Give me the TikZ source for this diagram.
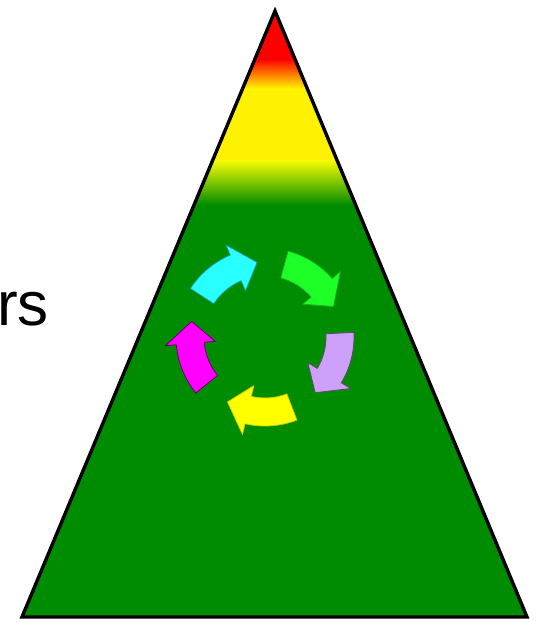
\documentclass[tikz,border=0pt]{standalone}
\usepackage{fontspec}
\setmainfont{Liberation Sans}
\usepackage{tikz}
\usetikzlibrary{positioning}
\definecolor{treegreen}{RGB}{0,140,0}
\definecolor{arrowcyan}{RGB}{40,255,255}
\definecolor{arrowgreen}{RGB}{30,255,40}
\definecolor{arrowlilac}{RGB}{205,160,250}
\definecolor{arrowyellow}{RGB}{255,255,0}
\definecolor{arrowmagenta}{RGB}{255,0,255}
\tikzset{
  outline/.style={draw=black, line width=3.4pt, line join=miter},
  ringarrow/.style={line width=0.8pt, line join=round},
  bigword/.style={anchor=base west, inner sep=0pt, font=\fontsize{62}{62}\selectfont}
}
% #1 fill, #2 edge, #3 middle angle
\newcommand{\ringarrow}[3]{%
  \pgfmathsetmacro{\aTail}{#3+25}%
  \pgfmathsetmacro{\aNeck}{#3-9}%
  \pgfmathsetmacro{\aTip}{#3-26}%
  \filldraw[ringarrow, fill=#1, draw=#2]
    (\aTail:89) arc[start angle=\aTail, end angle=\aNeck, radius=89]
    -- (\aNeck:100) -- (\aTip:75) -- (\aNeck:50)
    -- (\aNeck:61) arc[start angle=\aNeck, end angle=\aTail, radius=61] -- cycle;
}

\begin{document}
\begin{tikzpicture}[x=1pt, y=1pt]
  \useasboundingbox (0,0) rectangle (537,622);
  \coordinate (apex) at (275,611);
  \coordinate (baseL) at (22,5);
  \coordinate (baseR) at (527,5);
  \coordinate (ring) at (265,285);

  % colour bands of the triangle
  \begin{scope}
    \clip (apex) -- (baseR) -- (baseL) -- cycle;
    \fill[treegreen] (0,0) rectangle (537,418);
    \shade[top color=yellow, bottom color=treegreen] (0,417) rectangle (537,463);
    \fill[yellow] (0,462) rectangle (537,533);
    \shade[top color=red, bottom color=yellow] (0,532) rectangle (537,563);
    \fill[red] (0,562) rectangle (537,622);
  \end{scope}
  \draw[outline] (apex) -- (baseR) -- (baseL) -- cycle;

  \node[bigword] (cutword) at (-3,296) {rs};

  \begin{scope}[shift={(ring)}]
    \ringarrow{arrowcyan}{arrowcyan!60!black}{122}
    \ringarrow{arrowgreen}{arrowgreen!70!black}{50}
    \ringarrow{arrowlilac}{arrowlilac!45!black}{-22}
    \ringarrow{arrowyellow}{arrowyellow!80!black}{-94}
    \ringarrow{arrowmagenta}{arrowmagenta!40!black}{-166}
  \end{scope}
\end{tikzpicture}
\end{document}
